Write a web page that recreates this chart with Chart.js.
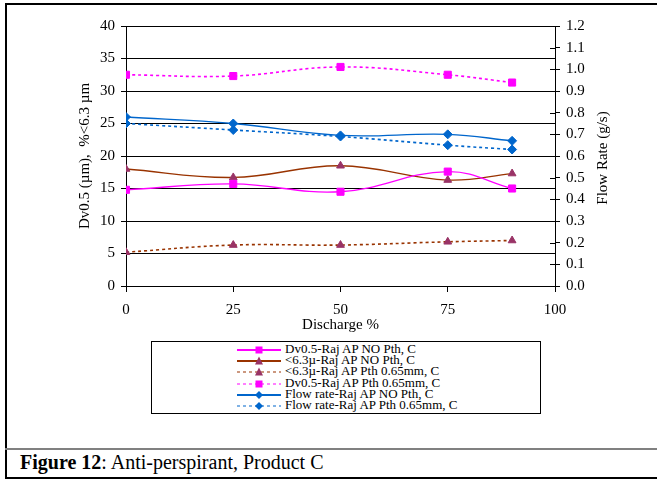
<!DOCTYPE html>
<html>
<head>
<meta charset="utf-8">
<script src="https://cdn.jsdelivr.net/npm/chart.js@4.4.1/dist/chart.umd.min.js"></script>
<style>
  body { margin: 0; background: #fff; font-family: "Liberation Serif", "Times New Roman", serif; }
  #page { position: relative; width: 657px; height: 480px; overflow: hidden; }
  .rule { position: absolute; background: #000; }
  #chart { position: absolute; left: 0; top: 0; }
  #legend { position: absolute; left: 151px; top: 341px; width: 388px; height: 71px;
            border: 1px solid #000; background: #fff; }
  .row { position: absolute; left: 0; height: 12px; font-size: 13px; line-height: 12px; white-space: nowrap; }
  .row svg { position: absolute; left: 85px; top: 0; }
  .row span { position: absolute; left: 133px; top: -1px; }
  #caption { position: absolute; left: 20px; top: 452px; font-size: 20px; line-height: 20px; }
</style>
</head>
<body>
<div id="page">
  <div class="rule" style="left:5px; top:3px; width:652px; height:2px;"></div>
  <div class="rule" style="left:5px; top:3px; width:2px; height:476px;"></div>
  <div class="rule" style="left:5px; top:477px; width:652px; height:2px;"></div>
  <div class="rule" style="left:5px; top:448px; width:652px; height:2px; background:#808080;"></div>
  <canvas id="chart" width="657" height="340"></canvas>
  <div id="legend"></div>
  <div id="caption"><b>Figure 12</b>: Anti-perspirant, Product C</div>
</div>
<script>
// Discharge points (%)
const discharge = [0, 25, 50, 75, 90];

// left axis: Dv0.5 (µm) and % < 6.3 µm
const dvNoPth = [14.8, 15.7, 14.5, 17.6, 15.0];
const fineNoPth = [18.0, 16.7, 18.5, 16.3, 17.3];
const finePth = [5.2, 6.3, 6.3, 6.8, 7.0];
const dvPth = [32.5, 32.3, 33.7, 32.5, 31.3];

// right axis: flow rate (g/s)
const flowNoPth = [0.78, 0.75, 0.695, 0.70, 0.67];
const flowPth = [0.75, 0.72, 0.69, 0.65, 0.63];

const leftTicks = [0, 5, 10, 15, 20, 25, 30, 35, 40];
const rightTicks = [0, 0.1, 0.2, 0.3, 0.4, 0.5, 0.6, 0.7, 0.8, 0.9, 1.0, 1.1, 1.2];
const xTicks = [0, 25, 50, 75, 100];

const MAGENTA = '#FF00FF', BROWN = '#993300', PLUM = '#993366', BLUE = '#0066CC';
const SERIF = '"Liberation Serif", "Times New Roman", serif';

function pts(ys) {
  return discharge.map((x, i) => ({ x: x, y: ys[i] }));
}

function series(label, ys, axis, line, marker, style, dashed) {
  return {
    label: label,
    data: pts(ys),
    yAxisID: axis,
    borderColor: line,
    borderWidth: dashed ? 1.6 : 1.3,
    borderDash: dashed ? [3, 3] : [],
    backgroundColor: marker,
    pointBackgroundColor: marker,
    pointBorderColor: marker,
    pointStyle: style,
    pointRadius: style === 'rect' ? 5 : 4.5,
    pointBorderWidth: 1,
    tension: 0.4,
    fill: false
  };
}

const datasets = [
  series('Dv0.5-Raj AP NO Pth, C', dvNoPth, 'yL', MAGENTA, MAGENTA, 'rect', false),
  series('<6.3\u00b5-Raj AP NO Pth, C', fineNoPth, 'yL', BROWN, PLUM, 'triangle', false),
  series('<6.3\u00b5-Raj AP Pth 0.65mm, C', finePth, 'yL', BROWN, PLUM, 'triangle', true),
  series('Dv0.5-Raj AP Pth 0.65mm, C', dvPth, 'yL', MAGENTA, MAGENTA, 'rect', true),
  series('Flow rate-Raj AP NO Pth, C', flowNoPth, 'yR', BLUE, BLUE, 'rectRot', false),
  series('Flow rate-Raj AP Pth 0.65mm, C', flowPth, 'yR', BLUE, BLUE, 'rectRot', true)
];

// right axis: title reads bottom-to-top, tick marks cross the axis line
const rightAxisExtras = {
  id: 'rightAxisExtras',
  afterDraw(chart) {
    const { ctx, chartArea } = chart;
    const yR = chart.scales.yR;
    ctx.save();
    ctx.strokeStyle = '#000';
    ctx.lineWidth = 1;
    ctx.beginPath();
    rightTicks.forEach(v => {
      const y = Math.round(yR.getPixelForValue(v)) + 0.5;
      ctx.moveTo(chartArea.right - 5, y);
      ctx.lineTo(chartArea.right, y);
    });
    ctx.stroke();
    ctx.translate(yR.right - 54, (chartArea.top + chartArea.bottom) / 2 + 2);
    ctx.rotate(-Math.PI / 2);
    ctx.font = '15px ' + SERIF;
    ctx.fillStyle = '#000';
    ctx.textAlign = 'center';
    ctx.textBaseline = 'middle';
    ctx.fillText('Flow Rate (g/s)', 0, 0);
    ctx.restore();
  }
};

const chart = new Chart(document.getElementById('chart'), {
  type: 'line',
  data: { datasets: datasets },
  plugins: [rightAxisExtras],
  options: {
    responsive: false,
    animation: false,
    layout: { padding: { top: 26, left: 0, right: 0, bottom: 0 } },
    plugins: { legend: { display: false }, tooltip: { enabled: false } },
    scales: {
      x: {
        type: 'linear', min: 0, max: 100,
        afterBuildTicks: s => { s.ticks = xTicks.map(v => ({ value: v })); },
        afterFit: s => { s.height = 54; },
        grid: { drawOnChartArea: false, color: '#000', tickLength: 6 },
        border: { color: '#000', width: 1 },
        ticks: { color: '#000', padding: 9, font: { family: SERIF, size: 15 } },
        title: { display: true, text: 'Discharge %', color: '#000',
                 font: { family: SERIF, size: 15 }, padding: { top: 0, bottom: 6 } }
      },
      yL: {
        type: 'linear', position: 'left', min: 0, max: 40,
        afterBuildTicks: s => { s.ticks = leftTicks.map(v => ({ value: v })); },
        afterFit: s => { s.width = 126; },
        grid: { color: '#000', lineWidth: 1, tickLength: 5 },
        border: { color: '#000', width: 1 },
        ticks: { color: '#000', padding: 6, font: { family: SERIF, size: 15 } },
        title: { display: true, text: 'Dv0.5 (\u00b5m),  %<6.3 \u00b5m', color: '#000',
                 font: { family: SERIF, size: 15 }, padding: { top: 76, bottom: 0 } }
      },
      yR: {
        type: 'linear', position: 'right', min: 0, max: 1.2,
        afterBuildTicks: s => { s.ticks = rightTicks.map(v => ({ value: v })); },
        afterFit: s => { s.width = 102; },
        grid: { drawOnChartArea: false, color: '#000', tickLength: 5 },
        border: { color: '#000', width: 1 },
        ticks: { color: '#000', padding: 6, font: { family: SERIF, size: 15 },
                 callback: v => v.toFixed(1) }
      }
    }
  }
});

// legend rows, one per dataset, stacked in a box under the plot
function sample(ds) {
  const dash = ds.borderDash.length ? ' stroke-dasharray="3 3"' : '';
  const c = ds.pointBackgroundColor;
  let mark;
  if (ds.pointStyle === 'rect') {
    mark = '<rect x="18.5" y="2.5" width="7" height="7" fill="' + c + '"/>';
  } else if (ds.pointStyle === 'triangle') {
    mark = '<polygon points="22,1.5 26,9.5 18,9.5" fill="' + c + '"/>';
  } else {
    mark = '<polygon points="22,2 26,6 22,10 18,6" fill="' + c + '"/>';
  }
  return '<svg width="44" height="12"><line x1="0" y1="6" x2="44" y2="6" stroke="' + ds.borderColor +
         '" stroke-width="' + (ds.borderDash.length ? 1.2 : 2) + '"' + dash + '/>' + mark + '</svg>';
}

const legend = document.getElementById('legend');
chart.data.datasets.forEach((ds, i) => {
  const row = document.createElement('div');
  row.className = 'row';
  row.style.top = (2 + i * 11.2) + 'px';
  row.innerHTML = sample(ds);
  const label = document.createElement('span');
  label.textContent = ds.label;
  row.appendChild(label);
  legend.appendChild(row);
});
</script>
</body>
</html>
